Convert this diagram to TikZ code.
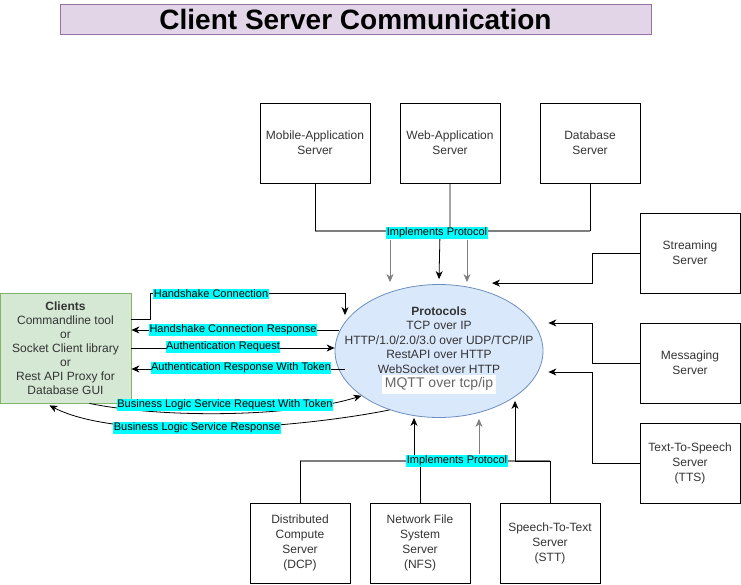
\documentclass[tikz,border=0pt]{standalone}
\usepackage{fontspec}
\setmainfont{Liberation Sans}
\usepackage{xcolor}
\usepackage{tikz}
\usetikzlibrary{arrows.meta,shapes.geometric}
\definecolor{titlefill}{HTML}{E1D5E7}
\definecolor{titleline}{HTML}{9673A6}
\definecolor{clientfill}{HTML}{D5E8D4}
\definecolor{clientline}{HTML}{82B366}
\definecolor{protofill}{HTML}{DAE8FC}
\definecolor{protoline}{HTML}{6C8EBF}
\definecolor{labelcyan}{HTML}{00FFFF}
\definecolor{busgray}{HTML}{7F7F7F}
\definecolor{boxtext}{HTML}{333333}
\definecolor{mqttgray}{HTML}{666666}

\begin{document}
\begin{tikzpicture}[x=1pt,y=-1pt,line width=0.8pt,
      srv/.style={rectangle,draw,minimum width=100pt,minimum height=80pt,
                  align=center,text=boxtext,font=\fontsize{12}{15}\selectfont},
      lbl/.style={fill=labelcyan,inner xsep=0.5pt,inner ysep=1pt,
                  font=\fontsize{11}{13}\selectfont},
      arr/.style={-{Stealth[length=8pt,width=7pt,inset=2.5pt]}},
      bus/.style={busgray,line width=1.1pt}]
    \useasboundingbox (0,0) rectangle (741,584);
    \node[draw=titleline,fill=titlefill,minimum width=591pt,minimum height=30pt,
          inner sep=0pt,font=\fontsize{28}{30}\bfseries\selectfont] (title) at (355.5,19) {Client Server Communication};
    \node[srv,minimum width=110pt] (mobile) at (315,143) {Mobile-Application\\Server};
    \node[srv] (web)    at (450,143) {Web-Application\\Server};
    \node[srv] (db)     at (590,143) {Database\\Server};
    \node[srv] (stream) at (690,253) {Streaming\\Server};
    \node[srv] (msg)    at (690,363) {Messaging\\Server};
    \node[srv] (tts)    at (690,463) {Text-To-Speech\\Server\\(TTS)};
    \node[srv] (dcp)    at (300,543) {Distributed\\Compute\\Server\\(DCP)};
    \node[srv] (nfs)    at (420,543) {Network File\\System\\Server\\(NFS)};
    \node[srv] (stt)    at (550,543) {Speech-To-Text\\Server\\(STT)};
    \node[rectangle,draw=clientline,fill=clientfill,minimum width=131pt,minimum height=110pt,
          align=center,text=boxtext,font=\fontsize{12}{14}\selectfont] (clients) at (65.5,348)
          {\textbf{Clients}\\Commandline tool\\or\\Socket Client library\\or\\Rest API Proxy for\\Database GUI};
    \node[ellipse,draw=protoline,fill=protofill,minimum width=208pt,minimum height=133pt,
          inner sep=0pt] (proto) at (439,351) {};
    \node[align=center,text=boxtext,font=\fontsize{12}{14.5}\selectfont] (prototext) at ([yshift=1pt]proto.center)
          {\textbf{Protocols}\\TCP over IP\\HTTP/1.0/2.0/3.0 over UDP/TCP/IP\\RestAPI over HTTP\\WebSocket over HTTP\\
           \colorbox{white}{\fontsize{14}{15}\selectfont\textcolor{mqttgray}{MQTT over tcp/ip}}};

    \coordinate (topl) at (315,231);
    \coordinate (topr) at (590,231);
    \draw[bus] (topl) -- (topr);
    \draw (mobile.south) -- (topl);
    \draw (db.south) -- (topr);
    \draw[arr] (web.south) -- ++(0,50) -- ++(-10,0) -- ([yshift=5pt]proto.north);
    \node[lbl] (toplbl) at (437,233) {Implements Protocol};
    \draw[arr,busgray] ([xshift=-47pt]toplbl.south) -- ([xshift=-49pt,yshift=2pt]proto.north);
    \draw[arr,busgray] ([xshift=30pt]toplbl.south) -- ([xshift=28pt,yshift=2pt]proto.north);

    \draw[arr] (stream.west) -- ++(-47,0) |- ([xshift=53pt,yshift=1pt]proto.north);
    \draw[arr] (msg.west) -- ++(-47,0) |- ([xshift=5pt,yshift=28pt]proto.east);
    \draw[arr] (tts.west) -- ++(-47,0) |- ([xshift=5pt,yshift=-21pt]proto.east);

    \coordinate (botl) at (300,461);
    \coordinate (botr) at (550,461);
    \draw[bus] (botl) -- (botr);
    \draw (dcp.north) -- (botl);
    \draw (nfs.north) -- (nfs.north |- botl);
    \draw[arr] (stt.north) -- (botr) -- ++(-35,0) -- ([xshift=76pt,yshift=17pt]proto.south);
    \draw[arr] (414,461) -- ([xshift=-25pt]proto.south);
    \node[lbl] (botlbl) at (457,461) {Implements Protocol};
    \draw[arr,busgray] ([xshift=22pt]botlbl.north) -- ([xshift=40pt,yshift=-1pt]proto.south);

    \draw[arr] ([yshift=29pt]clients.east) -- ++(19,0) -- ++(0,-26) -| ([xshift=-94pt,yshift=-31pt]proto.north);
    \node[lbl] (hsk) at (211,294) {Handshake Connection};
    \draw[arr] ([xshift=4pt,yshift=21pt]proto.west) -- ([yshift=18pt]clients.east);
    \node[lbl] (hskresp) at (233,330) {Handshake Connection Response};
    \draw[arr] (clients.east) -- (clients.east -| proto.west);
    \node[lbl] (authreq) at (223,347) {Authentication Request};
    \draw[arr] ([xshift=10pt,yshift=-18pt]proto.west) -- ([yshift=-21pt]clients.east);
    \node[lbl] (authresp) at (241,368) {Authentication Response With Token};
    \draw[arr] ([xshift=24pt]clients.south) .. controls (160,418) and (290,418) .. (proto.210);
    \node[lbl] (bizreq) at (225,405) {Business Logic Service Request With Token};
    \draw[arr] (proto.230) .. controls (300,428) and (120,442) .. ([xshift=-16pt,yshift=-2pt]clients.south);
    \node[lbl] (bizresp) at (197,428) {Business Logic Service Response};
  \end{tikzpicture}
\end{document}
